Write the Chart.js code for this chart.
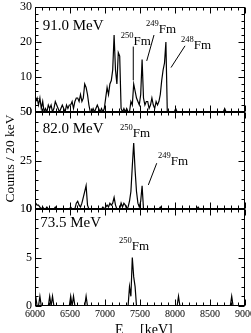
<!DOCTYPE html>
<html>
<head>
<meta charset="utf-8">
<script src="https://cdn.jsdelivr.net/npm/chart.js@4"></script>
<style>
html, body { margin: 0; padding: 0; background: #fff; }
</style>
</head>
<body>
<canvas id="spectra" width="251" height="333"></canvas>
<script>
// bins de 20 keV desde 6000 keV
var binStart = 6000;
var binWidth = 20;

// cuentas por bin, una fila = 10 bins (200 keV)
var counts91 = [
    3, 4, 2, 4, 1, 3, 0, 1, 0, 2,
    1, 2, 0, 1, 3, 2, 1, 0, 1, 2,
    1, 0, 2, 1, 2, 2, 3, 1, 3, 4,
    4, 3, 5, 3, 4, 8, 7, 5, 2, 0,
    0, 1, 0, 1, 2, 1, 0, 1, 0, 1,
    4, 7, 5, 8, 9, 12, 22, 12, 8, 17,
    16, 1, 0, 1, 0, 1, 0, 0, 3, 2,
    8, 6, 4, 3, 2, 5, 15, 4, 2, 3,
    3, 1, 2, 4, 2, 1, 3, 2, 3, 5,
    9, 12, 14, 20, 0, 0, 0, 0, 0, 0,
    1, 0, 0, 0, 0, 0, 0, 0, 0, 0,
    0, 0, 0, 0, 0, 0, 0, 0, 0, 0,
    0, 0, 0, 0, 0, 0, 0, 0, 0, 0,
    0, 0, 0, 0, 0, 1, 0, 0, 0, 0,
    0, 0, 0, 0, 0, 0, 0, 0, 0, 0
];
var counts82 = [
    3, 2, 2, 1, 0, 1, 0, 0, 1, 0,
    0, 0, 0, 0, 1, 0, 0, 0, 0, 0,
    0, 0, 0, 0, 0, 1, 0, 0, 0, 3,
    4, 2, 1, 3, 6, 9, 12, 2, 0, 0,
    0, 0, 0, 0, 0, 0, 0, 0, 1, 0,
    1, 2, 1, 3, 2, 3, 6, 2, 0, 0,
    0, 3, 1, 3, 2, 0, 1, 4, 9, 22,
    34, 20, 9, 3, 1, 4, 12, 0, 0, 0,
    0, 0, 0, 0, 0, 0, 0, 0, 0, 1,
    0, 0, 0, 0, 0, 0, 0, 0, 0, 0,
    0, 0, 0, 0, 0, 0, 0, 0, 0, 0,
    0, 0, 0, 0, 0, 0, 1, 0, 0, 0,
    0, 0, 0, 0, 0, 0, 0, 0, 0, 0,
    0, 0, 0, 0, 0, 0, 0, 0, 0, 0,
    0, 0, 0, 0, 0, 0, 0, 0, 0, 0
];
var counts73 = [
    1, 0, 0, 1, 0, 0, 0, 0, 0, 0,
    1, 0, 1, 0, 0, 0, 0, 0, 0, 0,
    0, 0, 0, 0, 0, 1, 0, 1, 0, 0,
    0, 0, 0, 0, 0, 0, 1, 0, 0, 0,
    0, 0, 0, 0, 0, 0, 0, 0, 0, 0,
    0, 0, 0, 0, 0, 0, 0, 0, 0, 0,
    0, 0, 0, 0, 0, 0, 0, 2, 1, 5,
    3, 2, 0, 0, 0, 0, 0, 0, 0, 0,
    0, 0, 0, 0, 0, 0, 0, 0, 0, 0,
    0, 0, 0, 0, 0, 0, 0, 0, 0, 0,
    0, 0, 1, 0, 0, 0, 0, 0, 0, 0,
    0, 0, 0, 0, 0, 0, 0, 0, 0, 0,
    0, 0, 0, 0, 0, 0, 0, 0, 0, 0,
    0, 0, 0, 0, 0, 0, 0, 0, 0, 0,
    1, 0, 0, 0, 0, 0, 0, 0, 0, 0
];

var panelIds = ['y1', 'y2', 'y3'];
var beamEnergies = ['91.0 MeV', '82.0 MeV', '73.5 MeV'];
var yMax = [30, 50, 10];
var yStep = [10, 25, 5];
var yMinor = [2, 5, 1];
var xTicks = [6000, 6500, 7000, 7500, 8000, 8500, 9000];

// posicion de los titulos de panel (keV, cuentas)
var titlePos = [[6110, 23.4], [6110, 39.3], [6075, 8.1]];

// etiquetas de isotopos: texto en (x, y), linea opcional
var peakLabels = [
    { panel: 0, mass: '250', x: 7224, y: 19.1, line: [7404, 18.7, 7404, 9.1] },
    { panel: 0, mass: '249', x: 7586, y: 22.6, line: [7700, 22.0, 7596, 14.6] },
    { panel: 0, mass: '248', x: 8086, y: 18.0, line: [8143, 18.9, 7943, 12.7] },
    { panel: 1, mass: '250', x: 7214, y: 37.3 },
    { panel: 1, mass: '249', x: 7757, y: 22.7, line: [7739, 23.6, 7619, 12.4] },
    { panel: 2, mass: '250', x: 7200, y: 5.8 }
];

var serif = 'Liberation Serif';

function toPoints(counts) {
    return counts.map(function (c, i) {
        return { x: binStart + binWidth * i + binWidth / 2, y: c };
    });
}

function fixY(scale) {
    scale.width = 35;
    scale.paddingTop = 0;
    scale.paddingBottom = 0;
}

function yScale(k) {
    return {
        type: 'linear',
        position: 'left',
        stack: 'panels',
        stackWeight: k === 0 ? 105 : 97,
        min: 0,
        max: yMax[k],
        ticks: { stepSize: yStep[k], padding: 3, color: '#000', font: { family: serif, size: 12 } },
        grid: { display: false, drawTicks: false },
        border: { display: false },
        afterFit: fixY
    };
}

var panelFrame = {
    id: 'panelFrame',
    afterDatasetsDraw: function (chart) {
        var ctx = chart.ctx;
        var xs = chart.scales.x;
        ctx.save();
        ctx.strokeStyle = '#000';
        ctx.fillStyle = '#000';
        ctx.lineWidth = 1;

        function seg(x1, y1, x2, y2) {
            ctx.beginPath();
            ctx.moveTo(x1, y1);
            ctx.lineTo(x2, y2);
            ctx.stroke();
        }

        panelIds.forEach(function (id, k) {
            var ys = chart.scales[id];
            var l = Math.round(xs.left) + 0.5, r = Math.round(xs.right) - 0.5;
            var t = Math.round(ys.top) + 0.5, b = Math.round(ys.bottom) - 0.5;
            ctx.strokeRect(l, t, r - l, b - t);
            // marcas hacia dentro
            for (var v = 6000; v <= 9000; v += 100) {
                var px = Math.round(xs.getPixelForValue(v)) + 0.5;
                var len = v % 500 === 0 ? 6 : 3;
                seg(px, b, px, b - len);
                seg(px, t, px, t + len);
            }
            for (var w = 0; w <= yMax[k]; w += yMinor[k]) {
                var py = Math.round(ys.getPixelForValue(w)) + 0.5;
                var ln = w % yStep[k] === 0 ? 6 : 3;
                seg(l, py, l + ln, py);
                seg(r, py, r - ln, py);
            }
            ctx.font = '15px "' + serif + '"';
            ctx.textAlign = 'left';
            ctx.textBaseline = 'alphabetic';
            ctx.fillText(beamEnergies[k], xs.getPixelForValue(titlePos[k][0]), ys.getPixelForValue(titlePos[k][1]));
        });

        peakLabels.forEach(function (p) {
            var ys = chart.scales[panelIds[p.panel]];
            var x = xs.getPixelForValue(p.x), y = ys.getPixelForValue(p.y);
            ctx.textAlign = 'left';
            ctx.textBaseline = 'alphabetic';
            ctx.font = '8.5px "' + serif + '"';
            ctx.fillText(p.mass, x, y - 7);
            var sw = ctx.measureText(p.mass).width;
            ctx.font = '13px "' + serif + '"';
            ctx.fillText('Fm', x + sw, y);
            if (p.line) {
                seg(xs.getPixelForValue(p.line[0]), ys.getPixelForValue(p.line[1]),
                    xs.getPixelForValue(p.line[2]), ys.getPixelForValue(p.line[3]));
            }
        });

        // titulos de ejes
        var top = chart.scales.y1.top, bottom = chart.scales.y3.bottom;
        ctx.save();
        ctx.translate(10, (top + bottom) / 2 + 2);
        ctx.rotate(-Math.PI / 2);
        ctx.textAlign = 'center';
        ctx.textBaseline = 'middle';
        ctx.font = '13.5px "' + serif + '"';
        ctx.fillText('Counts / 20 keV', 0, 0);
        ctx.restore();

        var cx = (xs.left + xs.right) / 2;
        ctx.textAlign = 'left';
        ctx.textBaseline = 'alphabetic';
        ctx.font = '14px "' + serif + '"';
        ctx.fillText('E', cx - 25, 334);
        ctx.font = '9px "' + serif + '"';
        ctx.fillText('α', cx - 16, 337);
        ctx.font = '14px "' + serif + '"';
        ctx.fillText('[keV]', cx, 334);
        ctx.restore();
    }
};

var ctx = document.getElementById('spectra');
var spectraChart = new Chart(ctx, {
    type: 'line',
    data: {
        datasets: [
            { label: beamEnergies[0], data: toPoints(counts91), yAxisID: 'y1' },
            { label: beamEnergies[1], data: toPoints(counts82), yAxisID: 'y2' },
            { label: beamEnergies[2], data: toPoints(counts73), yAxisID: 'y3' }
        ]
    },
    options: {
        responsive: false,
        animation: false,
        devicePixelRatio: 1,
        layout: { padding: { top: 7, right: 6, left: 0, bottom: 0 } },
        elements: {
            line: { borderColor: '#000', borderWidth: 1.2, tension: 0, fill: false },
            point: { radius: 0 }
        },
        plugins: { legend: { display: false }, tooltip: { enabled: false } },
        scales: {
            x: {
                type: 'linear',
                min: 6000,
                max: 9000,
                afterBuildTicks: function (s) {
                    s.ticks = xTicks.map(function (v) { return { value: v }; });
                },
                ticks: {
                    autoSkip: false,
                    maxRotation: 0,
                    padding: 2,
                    color: '#000',
                    font: { family: serif, size: 10 },
                    callback: function (v) { return String(v); }
                },
                grid: { display: false, drawTicks: false },
                border: { display: false },
                afterFit: function (s) {
                    s.height = 27;
                    s.paddingLeft = 0;
                    s.paddingRight = 0;
                }
            },
            // el ultimo eje definido queda arriba en la pila
            y3: yScale(2),
            y2: yScale(1),
            y1: yScale(0)
        }
    },
    plugins: [panelFrame]
});
</script>
</body>
</html>
